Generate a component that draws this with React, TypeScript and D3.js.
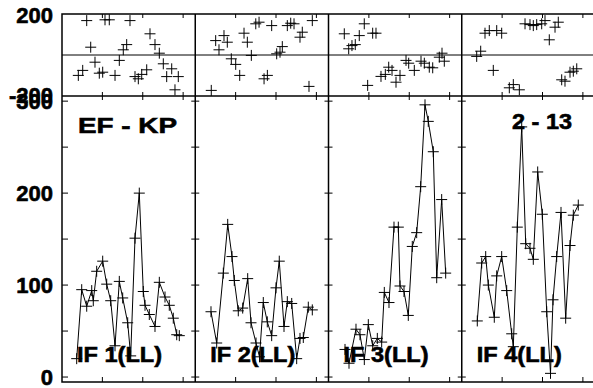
import React from "react";
import * as d3 from "d3";

// Panel labels
const panelNames = ["IF 1(LL)", "IF 2(LL)", "IF 3(LL)", "IF 4(LL)"];
const lowerTicks = [0, 50, 100, 150, 200, 250, 300];
const lowerTickLabels = [0, 100, 200, 300];
const topTickLabels = [-200, 200];
const xTicks = [10, 20, 30];

// Panel 1
const p1LowX = [3.64, 4.88, 6.12, 7.36, 7.75, 8.59, 10.08, 11.07, 12.06, 13.13, 14.19, 15.03, 16.27, 17.01, 18.08, 19.14, 20.13, 20.56, 21.62, 23.03, 24.1, 25.51, 26.57, 27.56, 28.41, 29.05];
const p1LowY = [20, 95, 77, 94, 83, 115, 126, 101, 83, 34, 104, 86, 59, 23, 151, 200, 93, 78, 68, 55, 103, 87, 78, 64, 46, 45];
const p1TopX = [4.04, 5.13, 6.12, 7.11, 8.17, 9.24, 10.08, 10.65, 11.71, 13.13, 14.19, 15.18, 16.02, 16.84, 18.08, 18.9, 19.74, 20.98, 21.79, 23.03, 24.1, 25.09, 25.93, 27.17, 27.98, 28.8];
const p1TopY = [-102, -77, 172, 39, -36, -91, -86, 176, 176, -102, -27, 26, 52, 172, -108, -119, -97, -74, 106, 52, 9, -44, -108, -69, -174, -108];

// Panel 2
const p2LowX = [3.9, 5.31, 6.95, 8.04, 9.1, 9.67, 10.66, 11.75, 12.99, 13.81, 15.05, 15.91, 16.85, 17.84, 18.93, 20.0, 20.81, 21.98, 22.8, 23.89, 25.12, 25.94, 26.76, 28.0, 28.99];
const p2LowY = [71, 37, 113, 166, 131, 105, 72, 75, 107, 59, 37, 22, 81, 60, 45, 97, 126, 55, 82, 80, 20, 42, 43, 76, 73];
const p2TopX = [3.97, 5.06, 5.88, 7.12, 7.94, 8.93, 10.02, 11.01, 12.08, 12.9, 13.89, 14.99, 15.8, 17.04, 17.86, 18.93, 20.17, 20.99, 21.56, 22.8, 23.64, 24.46, 25.94, 26.51, 28.17, 28.99];
const p2TopY = [-177, 72, 26, 97, 64, -19, -47, -102, 109, 64, -2, 156, 164, -119, -102, 147, 6, 14, 42, 147, 159, 156, 89, 114, -157, 172];

// Panel 3
const p3LowX = [4.09, 5.08, 6.81, 7.8, 8.87, 9.86, 10.95, 12.09, 13.17, 13.82, 14.98, 16.22, 17.29, 17.71, 18.7, 19.76, 20.75, 21.84, 22.83, 23.9, 24.71, 25.95, 26.8, 28.03, 29.02];
const p3LowY = [30, 15, 52, 46, 19, 57, 34, 42, 38, 92, 81, 163, 163, 99, 93, 67, 142, 157, 207, 296, 278, 245, 108, 193, 113];
const p3TopX = [3.91, 5.0, 5.81, 6.63, 7.62, 8.86, 9.7, 10.94, 11.76, 13.0, 14.07, 14.91, 15.73, 16.72, 17.71, 19.2, 19.86, 21.25, 22.91, 23.73, 24.96, 25.81, 27.44, 28.11, 28.68];
const p3TopY = [106, 31, 47, 52, 97, 156, -152, 109, 109, -107, -97, -61, -77, -136, -102, -27, -41, -77, -31, -41, -61, -64, -11, 9, -31];

// Panel 4
const p4LowX = [3.85, 4.94, 5.93, 6.58, 8.06, 8.66, 9.89, 11.13, 12.37, 12.77, 13.76, 14.85, 15.84, 16.9, 17.72, 18.81, 19.95, 21.04, 21.98, 22.6, 23.51, 24.58, 25.74, 26.81, 27.63, 28.86];
const p4LowY = [61, 124, 131, 100, 65, 110, 131, 94, 47, 33, 163, 272, 145, 140, 128, 223, 177, 71, 4, 84, 131, 179, 64, 143, 176, 187];
const p4TopX = [3.7, 4.69, 5.76, 6.82, 7.81, 8.66, 9.89, 11.78, 12.77, 14.26, 15.67, 16.9, 17.72, 18.56, 19.8, 20.62, 21.68, 23.1, 23.91, 24.75, 25.57, 26.81, 27.63, 28.48];
const p4TopY = [-7, 19, 109, 122, -77, 122, 109, -164, -148, -174, 156, 152, 147, 152, 156, 172, 76, 139, 164, -124, -131, -86, -81, -69];

const lowX = [p1LowX, p2LowX, p3LowX, p4LowX];
const lowY = [p1LowY, p2LowY, p3LowY, p4LowY];
const topX = [p1TopX, p2TopX, p3TopX, p4TopX];
const topY = [p1TopY, p2TopY, p3TopY, p4TopY];

const W = 593;
const H = 388;
const left = 62;
const right = 595;
const topY0 = 14;
const midY = 96;
const bottom = 382;
const nPanels = 4;
const panelW = (right - left) / nPanels;
const FONT = "'Liberation Sans', Arial, Helvetica, sans-serif";

export default function App() {
  const yLow = d3.scaleLinear().domain([-5.4, 305.6]).range([bottom, midY]);
  const yTop = d3.scaleLinear().domain([-205, 205]).range([midY, topY0]);
  const line = d3.line<[number, number]>();
  const cs = 5.5;

  const cross = (x: number, y: number, k: string) => (
    <path key={k} d={`M${x - cs},${y}H${x + cs}M${x},${y - cs}V${y + cs}`} stroke="#000" strokeWidth={1} fill="none" />
  );

  const textStyle = {
    fontFamily: FONT,
    fontWeight: "bold" as const,
    fontSize: 22,
    fill: "#000",
    stroke: "#000",
    strokeWidth: 0.6,
  };

  return (
    <svg width={W} height={H} style={{ position: "absolute", left: 0, top: 0, background: "#fff" }}>
      {/* panel content */}
      {panelNames.map((name, i) => {
        const x0 = left + i * panelW;
        const xs = d3.scaleLinear().domain([0, 33]).range([x0, x0 + panelW]);
        const pts: [number, number][] = lowX[i].map((v, j) => [xs(v), yLow(lowY[i][j])]);
        return (
          <g key={name}>
            <path d={line(pts) || ""} stroke="#000" strokeWidth={1} fill="none" />
            {pts.map((p, j) => cross(p[0], p[1], `l${i}-${j}`))}
            {topX[i].map((v, j) => cross(xs(v), yTop(topY[i][j]), `t${i}-${j}`))}
            {/* x ticks */}
            {xTicks.map((t) => (
              <g key={t} stroke="#000" strokeWidth={1}>
                <line x1={xs(t)} x2={xs(t)} y1={topY0} y2={topY0 + 4} />
                <line x1={xs(t)} x2={xs(t)} y1={midY - 4} y2={midY + 4} />
                <line x1={xs(t)} x2={xs(t)} y1={bottom - 5} y2={bottom} />
              </g>
            ))}
            {/* y ticks on panel edge */}
            {lowerTicks.map((t) => (
              <line
                key={t}
                x1={i === 0 ? x0 : x0 - 4}
                x2={x0 + (i === 0 ? 6 : 4)}
                y1={yLow(t)}
                y2={yLow(t)}
                stroke="#000"
                strokeWidth={1}
              />
            ))}
            <text x={x0 + 15} y={362} textLength={85} lengthAdjust="spacingAndGlyphs" {...textStyle}>
              {name}
            </text>
          </g>
        );
      })}

      {/* frame */}
      <rect x={left} y={topY0} width={right - left} height={bottom - topY0} fill="none" stroke="#000" strokeWidth={1.5} />
      <line x1={left} x2={right} y1={midY} y2={midY} stroke="#000" strokeWidth={1.5} />
      <line x1={left} x2={right} y1={yTop(0)} y2={yTop(0)} stroke="#000" strokeWidth={1} />
      {d3.range(1, nPanels).map((i) => (
        <line key={i} x1={left + i * panelW} x2={left + i * panelW} y1={topY0} y2={bottom} stroke="#000" strokeWidth={1.5} />
      ))}

      {/* y tick labels */}
      {lowerTickLabels.map((t) => (
        <text key={`ll${t}`} x={53} y={yLow(t)} dy="0.36em" textAnchor="end" {...textStyle}>
          {t}
        </text>
      ))}
      {topTickLabels.map((t) => (
        <text key={`tl${t}`} x={53} y={yTop(t)} dy="0.36em" textAnchor="end" {...textStyle}>
          {t}
        </text>
      ))}

      {/* header labels */}
      <text x={78} y={133} textLength={99} lengthAdjust="spacingAndGlyphs" {...textStyle}>
        EF - KP
      </text>
      <text x={512} y={129} textLength={60} lengthAdjust="spacingAndGlyphs" {...textStyle}>
        2 - 13
      </text>
    </svg>
  );
}
